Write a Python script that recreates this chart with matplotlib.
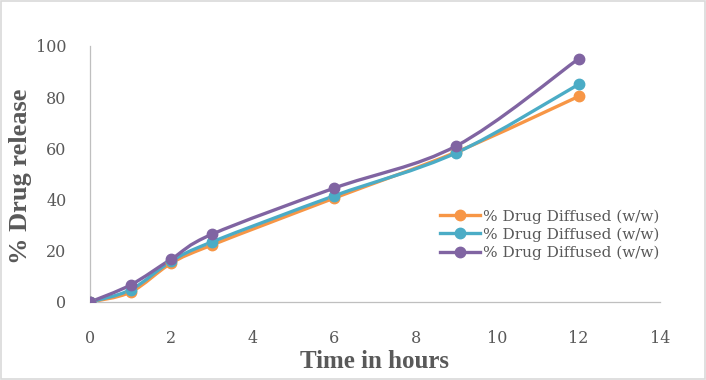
import numpy as np
import matplotlib
matplotlib.use("Agg")
import matplotlib.pyplot as plt
from matplotlib.path import Path
from matplotlib.patches import PathPatch, Rectangle
from matplotlib.lines import Line2D

# data
hours = [0, 1, 2, 3, 6, 9, 12]
series_a = [0, 3.9, 15.2, 22.3, 40.6, 58.6, 80.3]
series_b = [0, 4.8, 16.0, 23.5, 41.5, 58.3, 85.0]
series_c = [0, 6.7, 16.8, 26.5, 44.5, 61.0, 95.0]
labels = ["% Drug Diffused (w/w)"] * 3
colors = ["#F79646", "#4BACC6", "#8064A2"]

SERIF = ["Liberation Serif", "DejaVu Serif"]
BODY = ["DejaVu Serif"]
GREY = "#595959"


def smooth_path(x, y, t=1.0 / 6):
    # Excel style smoothed line: cubic bezier through the points
    x = np.asarray(x, float)
    y = np.asarray(y, float)
    n = len(x)
    verts = [(x[0], y[0])]
    codes = [Path.MOVETO]
    for i in range(n - 1):
        x0, y0 = (x[i - 1], y[i - 1]) if i > 0 else (x[i], y[i])
        x3, y3 = (x[i + 2], y[i + 2]) if i + 2 < n else (x[i + 1], y[i + 1])
        c1 = (x[i] + (x[i + 1] - x0) * t, y[i] + (y[i + 1] - y0) * t)
        c2 = (x[i + 1] - (x3 - x[i]) * t, y[i + 1] - (y3 - y[i]) * t)
        verts += [c1, c2, (x[i + 1], y[i + 1])]
        codes += [Path.CURVE4] * 3
    return Path(verts, codes)


fig = plt.figure(figsize=(7.06, 3.8), dpi=100)
ax = fig.add_axes([90 / 706, 78 / 380, 570 / 706, 256 / 380])

handles = []
for ys, c, lab in zip([series_a, series_b, series_c], colors, labels):
    ax.add_patch(PathPatch(smooth_path(hours, ys), fill=False, edgecolor=c,
                           lw=2.4, capstyle="round", zorder=3))
    ax.plot(hours, ys, "o", color=c, ms=7.5, zorder=4)
    handles.append(Line2D([], [], color=c, lw=2.4, marker="o", ms=7.5))

ax.set_xlim(0, 14)
ax.set_ylim(0, 100)
ax.set_xticks(range(0, 15, 2))
ax.set_yticks(range(0, 101, 20))

for s in ["top", "right"]:
    ax.spines[s].set_visible(False)
for s in ["left", "bottom"]:
    ax.spines[s].set_color("#BFBFBF")
    ax.spines[s].set_linewidth(0.9)
ax.spines["left"].set_bounds(0, 100)

ax.tick_params(axis="both", length=0, labelsize=11.5, labelcolor=GREY)
ax.tick_params(axis="x", pad=20)
ax.tick_params(axis="y", pad=17)
for lab in ax.get_xticklabels() + ax.get_yticklabels():
    lab.set_family(BODY)

ax.set_xlabel("Time in hours", fontsize=18, fontweight="bold", color=GREY,
              family=SERIF, labelpad=2)
# y label placed by hand, the axes sit close to the left edge
fig.text(21 / 706, 1 - 176 / 380, "% Drug release", rotation=90, ha="center",
         va="center", fontsize=19, fontweight="bold", color=GREY, family=SERIF)

leg = ax.legend(handles, labels, loc="upper left",
                bbox_to_anchor=(434 / 706, 177 / 380), bbox_transform=fig.transFigure,
                frameon=False, handlelength=2.6, handletextpad=0.2,
                labelspacing=0.25, borderaxespad=0,
                prop={"family": BODY, "size": 11})
for t in leg.get_texts():
    t.set_color(GREY)

fig.patches.append(Rectangle((0.002, 0.003), 0.996, 0.994, transform=fig.transFigure,
                             fill=False, edgecolor="#D9D9D9", lw=1.2))

fig.savefig("out.png", dpi=100)
